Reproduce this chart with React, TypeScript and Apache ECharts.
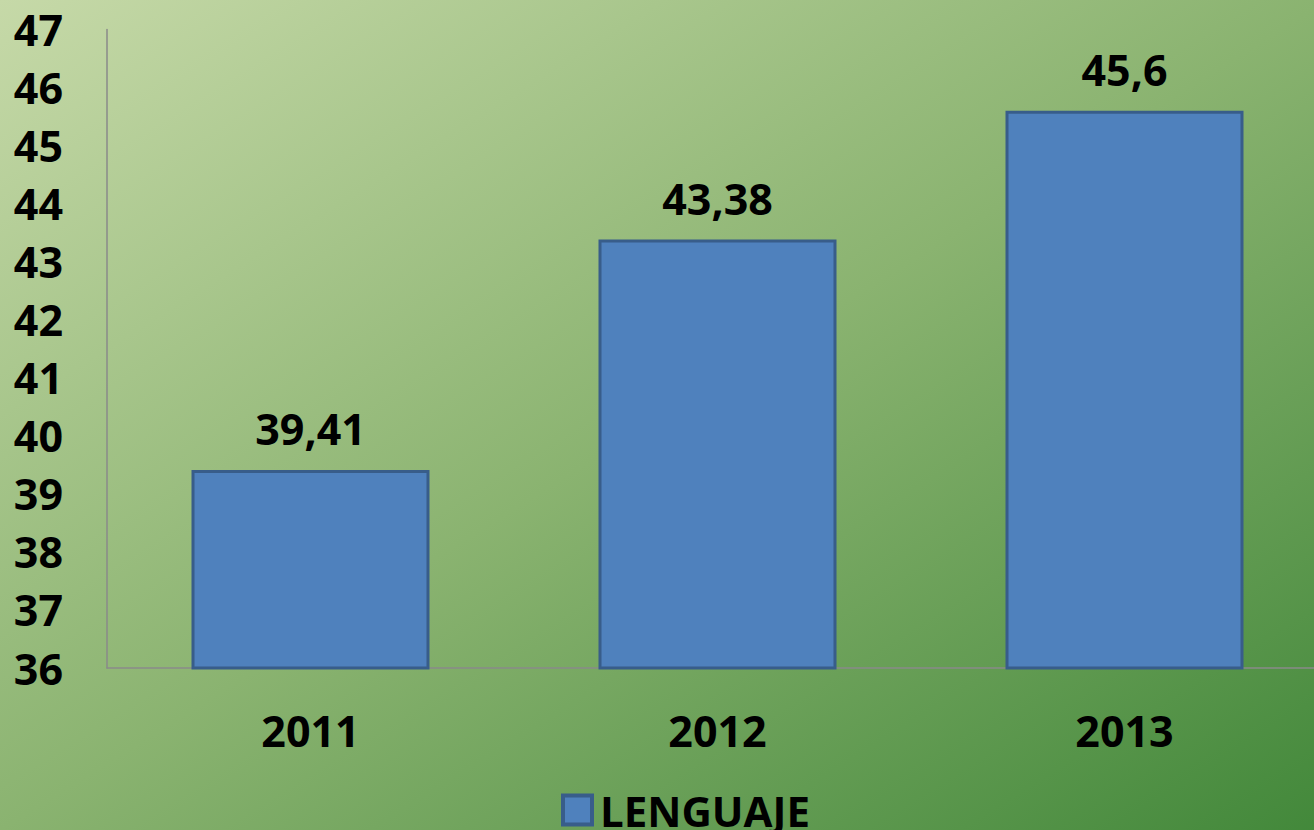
import React, { useEffect, useRef } from "react";
import * as echarts from "echarts";

const categories = ["2011", "2012", "2013"];
const seriesName = "LENGUAJE";
const values = [39.41, 43.38, 45.6];
const yMin = 36;
const yMax = 47;
const yInterval = 1;

const FONT = "'Open Sans', 'Noto Sans', sans-serif";
const FS = 43;

export default function App() {
  const ref = useRef<HTMLDivElement>(null);
  useEffect(() => {
    if (!ref.current) return;
    const chart = echarts.init(ref.current, null, { renderer: "svg" });
    chart.setOption({
      animation: false,
      backgroundColor: new echarts.graphic.LinearGradient(0, 0, 1, 1, [
        { offset: 0, color: "#c6d9a8" },
        { offset: 0.5, color: "#8ab370" },
        { offset: 1, color: "#42883a" },
      ]),
      textStyle: { fontFamily: FONT },
      grid: { left: 107, top: 29.5, right: 0, bottom: 162, containLabel: false },
      legend: {
        data: [seriesName],
        left: 556,
        top: 784,
        itemWidth: 29,
        itemHeight: 29,
        itemGap: 10,
        icon: "rect",
        itemStyle: { borderWidth: 4, borderColor: "#385d8a", color: "#4f81bd" },
        textStyle: {
          fontFamily: FONT,
          fontWeight: "bold",
          fontSize: 42,
          color: "#000",
          lineHeight: 34,
          padding: [0, 0, 0, 3],
        },
      },
      xAxis: {
        type: "category",
        data: categories,
        axisLine: { show: true, lineStyle: { color: "#8a8a8a", width: 1.5 } },
        axisTick: { show: false },
        axisLabel: {
          margin: 41,
          fontFamily: FONT,
          fontWeight: "bold",
          fontSize: FS,
          color: "#000",
        },
      },
      yAxis: {
        type: "value",
        min: yMin,
        max: yMax,
        interval: yInterval,
        splitLine: { show: false },
        axisLine: { show: true, lineStyle: { color: "#8a8a8a", width: 1.5 } },
        axisTick: { show: false },
        axisLabel: {
          margin: 44,
          fontFamily: FONT,
          fontWeight: "bold",
          fontSize: FS,
          color: "#000",
        },
      },
      series: [
        {
          name: seriesName,
          type: "bar",
          data: values,
          barWidth: 238,
          itemStyle: {
            color: "#4f81bd",
            borderColor: "#385d8a",
            borderWidth: 3,
          },
          label: {
            show: true,
            position: "top",
            distance: 20,
            fontFamily: FONT,
            fontWeight: "bold",
            fontSize: FS,
            color: "#000",
            formatter: (p: any) => String(p.value).replace(".", ","),
          },
        },
      ],
    });
    return () => chart.dispose();
  }, []);
  return (
    <div
      style={{
        position: "absolute",
        left: 0,
        top: 0,
        width: 1314,
        height: 830,
        overflow: "hidden",
      }}
    >
      <div ref={ref} style={{ width: 1328, height: 830 }} />
    </div>
  );
}
